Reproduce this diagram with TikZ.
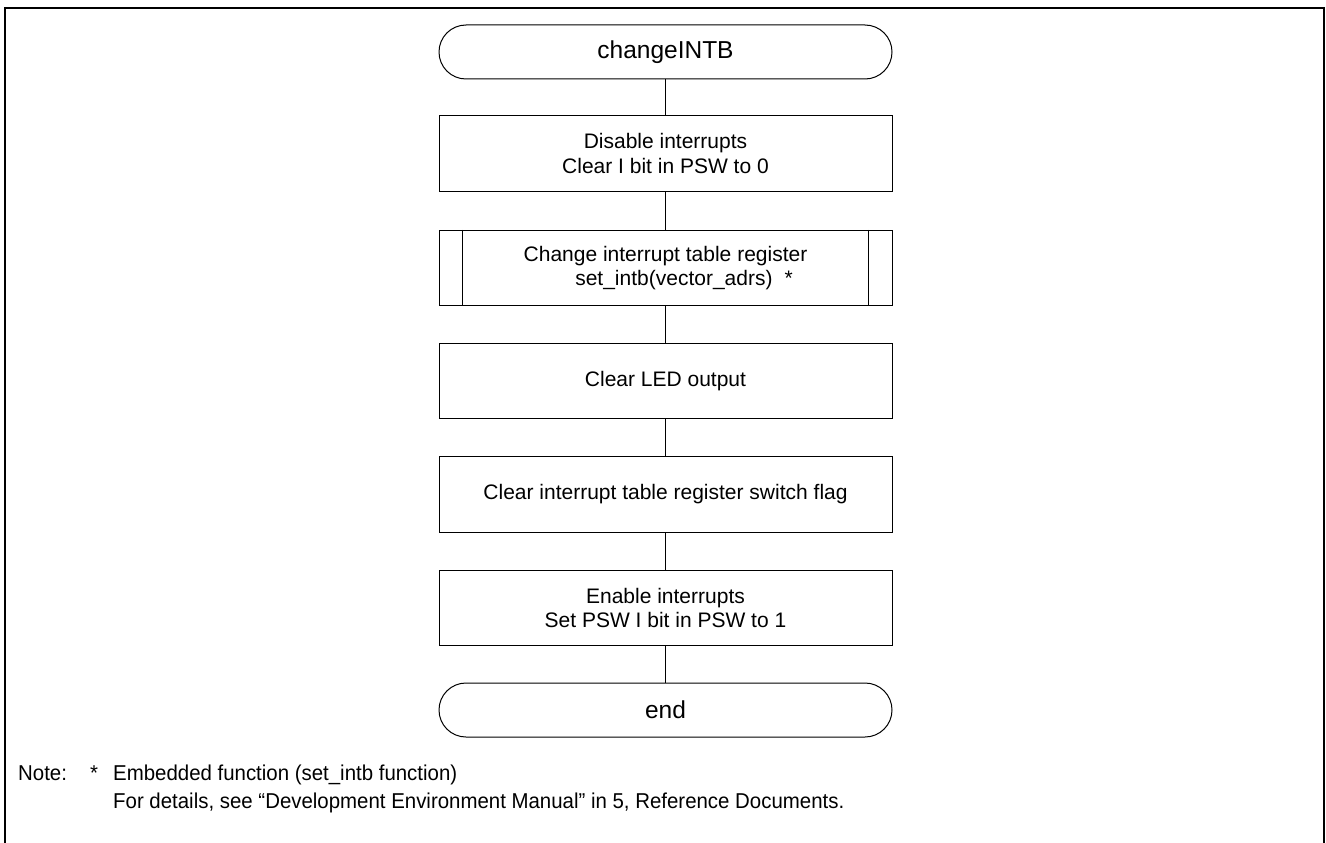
\documentclass[tikz,border=0pt]{standalone}
\usepackage{fontspec}
\setmainfont{Liberation Sans}
\newfontfamily\notefont[FakeStretch=0.95]{Liberation Sans}
\begin{document}
\begin{tikzpicture}[x=1pt,y=-1pt,
  boxtext/.style={font=\fontsize{21}{24.5}\selectfont, align=center},
  procbox/.style={draw, line width=1pt, rectangle, minimum width=453pt,
    minimum height=75.5pt, inner sep=0pt, boxtext},
  termbox/.style={draw, line width=1pt, rectangle, rounded corners=27pt,
    minimum width=453pt, minimum height=54pt, inner sep=0pt,
    font=\fontsize{24.5}{28}\selectfont},
  flow/.style={draw, line width=1pt},
  notetext/.style={inner sep=0pt, anchor=base west, font=\notefont\fontsize{21.5}{24}\selectfont}]
\useasboundingbox (0,0) rectangle (1326,843);
% outer frame, open at the bottom
\draw[line width=2.5pt] (5,843) -- (5,8) -- (1324,8) -- (1324,843);

% flowchart
\node[termbox] (start) at (665.5,52) {changeINTB};
\node[procbox] (dis) at (665.5,153.5) {Disable interrupts\\Clear I bit in PSW to 0};
\node[procbox] (setintb) at (665.5,268) {Change interrupt table register\\\hspace*{37pt}set\_intb(vector\_adrs)\hspace{12pt}*};
\draw[line width=1pt] ([xshift=24pt]setintb.north west) -- ([xshift=24pt]setintb.south west);
\draw[line width=1pt] ([xshift=-24pt]setintb.north east) -- ([xshift=-24pt]setintb.south east);
\node[procbox] (led) at (665.5,381) {Clear LED output};
\node[procbox] (flag) at (665.5,494.5) {Clear interrupt table register switch flag};
\node[procbox] (ena) at (665.5,608) {Enable interrupts\\Set PSW I bit in PSW to 1};
\node[termbox] (stop) at (665.5,710) {end};

\draw[flow] (start) -- (dis);
\draw[flow] (dis) -- (setintb);
\draw[flow] (setintb) -- (led);
\draw[flow] (led) -- (flag);
\draw[flow] (flag) -- (ena);
\draw[flow] (ena) -- (stop);

% footnote
\node[notetext] (notelbl) at (18,780) {Note:};
\node[notetext] (star) at (90,780) {*};
\node[notetext] (note1) at (113,780) {Embedded function (set\_intb function)};
\node[notetext] (note2) at (113,808) {For details, see “Development Environment Manual” in 5, Reference Documents.};
\end{tikzpicture}
\end{document}
